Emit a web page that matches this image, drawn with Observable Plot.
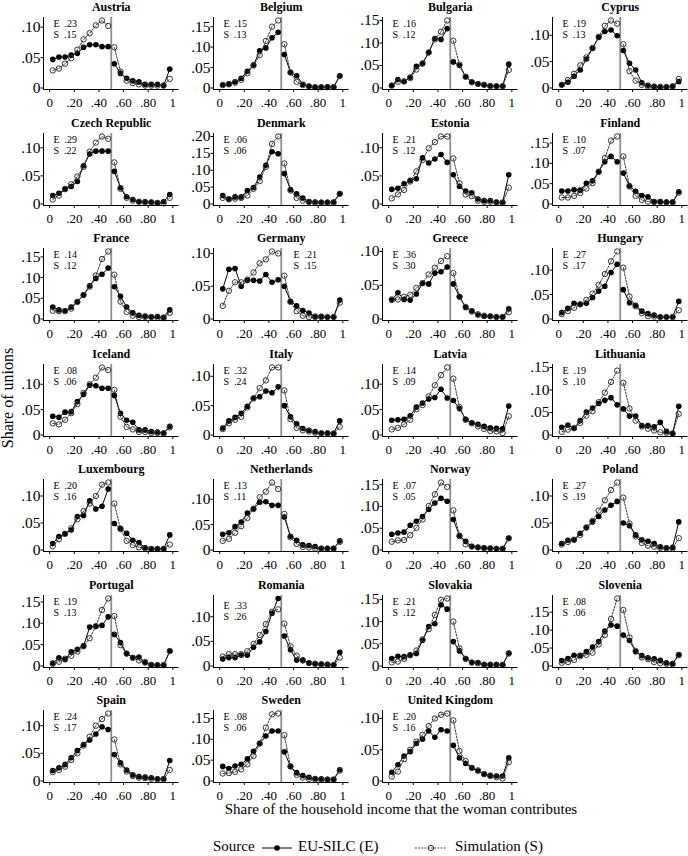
<!DOCTYPE html>
<html><head><meta charset="utf-8">
<script src="https://cdn.jsdelivr.net/npm/d3@7"></script>
<script src="https://cdn.jsdelivr.net/npm/@observablehq/plot@0.6"></script>
<style>
body{margin:0;background:#fff;}
#wrap{position:relative;width:688px;height:856px;font-family:"Liberation Serif","Times New Roman",serif;overflow:hidden;}
#wrap svg.panel{position:absolute;}
</style>
</head><body><div id="wrap"></div>
<script>
const countries = ["Austria","Belgium","Bulgaria","Cyprus","Czech Republic","Denmark","Estonia","Finland","France","Germany","Greece","Hungary","Iceland","Italy","Latvia","Lithuania","Luxembourg","Netherlands","Norway","Poland","Portugal","Romania","Slovakia","Slovenia","Spain","Sweden","United Kingdom"];
const bins = [0.025,0.075,0.125,0.175,0.225,0.275,0.325,0.375,0.425,0.475,0.525,0.575,0.625,0.675,0.725,0.775,0.825,0.875,0.925,0.975];
const segment = ["L","L","L","L","L","L","L","L","L","L","R","R","R","R","R","R","R","R","R","R"];
const xTicks = [0, 0.2, 0.4, 0.6, 0.8, 1];
const yTickMax = [0.10,0.15,0.15,0.10,0.10,0.20,0.10,0.15,0.15,0.10,0.10,0.10,0.10,0.10,0.10,0.15,0.10,0.10,0.15,0.10,0.15,0.10,0.15,0.15,0.10,0.15,0.10];
const indexE = [".23",".15",".16",".19",".29",".06",".21",".10",".14",".21",".36",".27",".08",".32",".14",".19",".20",".13",".07",".27",".19",".33",".21",".08",".24",".08",".20"];
const indexS = [".15",".13",".12",".13",".22",".06",".12",".07",".12",".15",".30",".17",".06",".24",".09",".10",".16",".11",".05",".19",".13",".26",".12",".06",".17",".06",".16"];
// EU-SILC (E)
const silcE = [
 [.047,.051,.051,.054,.057,.067,.071,.071,.068,.068,.040,.024,.016,.012,.010,.006,.006,.006,.004,.031],
 [.008,.010,.015,.024,.041,.056,.091,.098,.123,.136,.082,.038,.030,.009,.004,.002,.002,.003,.002,.030],
 [.006,.019,.014,.024,.048,.054,.079,.110,.108,.132,.058,.050,.025,.013,.009,.007,.005,.004,.004,.053],
 [.006,.011,.022,.034,.055,.075,.096,.107,.110,.099,.071,.047,.034,.010,.005,.003,.002,.002,.003,.012],
 [.015,.019,.026,.031,.040,.068,.089,.094,.094,.094,.058,.029,.013,.008,.004,.004,.003,.002,.004,.017],
 [.025,.015,.021,.021,.040,.049,.080,.115,.155,.149,.090,.043,.030,.018,.007,.006,.005,.005,.006,.031],
 [.026,.028,.036,.042,.045,.082,.073,.080,.088,.074,.052,.031,.023,.020,.009,.006,.006,.003,.003,.052],
 [.032,.032,.035,.034,.051,.057,.080,.104,.117,.104,.076,.045,.031,.021,.018,.006,.006,.005,.005,.030],
 [.029,.022,.020,.029,.042,.058,.080,.098,.108,.123,.078,.055,.029,.015,.009,.007,.005,.006,.004,.022],
 [.046,.076,.077,.050,.059,.059,.058,.068,.056,.060,.050,.027,.020,.013,.009,.004,.004,.003,.003,.029],
 [.028,.039,.029,.028,.037,.053,.052,.068,.070,.077,.052,.033,.017,.012,.006,.004,.004,.003,.003,.015],
 [.013,.022,.032,.030,.032,.044,.057,.067,.095,.112,.060,.033,.028,.016,.011,.008,.004,.004,.004,.036],
 [.037,.035,.045,.046,.066,.080,.098,.097,.092,.092,.078,.043,.029,.025,.010,.010,.007,.006,.004,.017],
 [.012,.024,.030,.037,.049,.063,.065,.075,.072,.082,.050,.031,.019,.011,.008,.006,.003,.003,.003,.024],
 [.029,.030,.031,.038,.055,.063,.071,.074,.090,.073,.068,.052,.031,.024,.021,.017,.014,.013,.012,.057],
 [.017,.022,.015,.032,.051,.060,.070,.077,.083,.067,.058,.042,.042,.021,.021,.018,.028,.008,.004,.064],
 [.012,.025,.030,.037,.062,.064,.091,.076,.081,.113,.049,.040,.031,.018,.014,.004,.002,.002,.002,.028],
 [.031,.034,.046,.055,.073,.081,.094,.095,.088,.088,.065,.027,.019,.010,.009,.007,.003,.003,.003,.018],
 [.036,.039,.041,.057,.066,.077,.093,.108,.119,.112,.070,.033,.020,.008,.006,.005,.004,.003,.003,.027],
 [.012,.018,.019,.031,.041,.052,.062,.074,.083,.090,.050,.045,.028,.019,.016,.012,.006,.004,.005,.052],
 [.007,.019,.015,.033,.039,.047,.091,.093,.095,.115,.074,.055,.029,.020,.021,.009,.002,.002,.002,.035],
 [.014,.017,.017,.022,.022,.038,.049,.070,.107,.137,.061,.033,.012,.011,.006,.004,.004,.003,.002,.028],
 [.017,.022,.021,.025,.028,.058,.089,.095,.138,.128,.055,.034,.017,.008,.008,.003,.003,.003,.003,.029],
 [.015,.021,.030,.030,.040,.053,.068,.097,.114,.111,.086,.071,.040,.029,.023,.020,.016,.009,.007,.032],
 [.019,.024,.030,.042,.055,.066,.074,.085,.098,.093,.048,.033,.020,.011,.008,.007,.006,.004,.004,.037],
 [.035,.030,.036,.040,.053,.071,.090,.108,.120,.120,.070,.035,.020,.013,.009,.006,.005,.004,.004,.027],
 [.014,.026,.040,.047,.060,.067,.080,.070,.082,.080,.057,.037,.028,.021,.016,.011,.009,.008,.008,.037]
];
// Simulation (S)
const simS = [
 [.029,.032,.040,.049,.063,.080,.090,.103,.111,.102,.067,.027,.012,.008,.006,.004,.004,.004,.004,.015],
 [.007,.009,.013,.020,.036,.055,.080,.115,.150,.165,.107,.038,.015,.007,.004,.002,.002,.002,.002,.029],
 [.005,.014,.015,.022,.041,.055,.079,.108,.125,.150,.105,.052,.025,.013,.009,.007,.004,.004,.004,.040],
 [.006,.015,.027,.043,.058,.076,.097,.118,.128,.122,.083,.032,.014,.006,.003,.002,.002,.002,.003,.017],
 [.008,.015,.027,.035,.049,.066,.093,.109,.120,.116,.074,.027,.011,.006,.004,.003,.003,.002,.001,.011],
 [.018,.014,.016,.018,.025,.045,.068,.110,.178,.200,.120,.040,.018,.010,.006,.004,.004,.004,.004,.030],
 [.010,.017,.025,.040,.058,.078,.099,.110,.120,.120,.081,.037,.017,.014,.006,.004,.004,.003,.002,.029],
 [.016,.016,.020,.027,.038,.051,.079,.113,.156,.166,.117,.043,.020,.010,.006,.005,.005,.004,.004,.028],
 [.020,.019,.019,.025,.041,.058,.078,.105,.145,.163,.107,.042,.017,.008,.005,.005,.005,.003,.002,.015],
 [.020,.043,.056,.056,.060,.071,.085,.091,.103,.100,.066,.026,.012,.005,.003,.003,.003,.003,.003,.025],
 [.029,.029,.033,.036,.046,.053,.066,.076,.086,.093,.068,.033,.018,.011,.007,.005,.004,.003,.003,.010],
 [.010,.016,.023,.030,.039,.052,.070,.092,.118,.138,.105,.046,.026,.012,.006,.005,.004,.004,.004,.018],
 [.023,.021,.030,.043,.061,.083,.100,.113,.133,.128,.089,.036,.016,.011,.006,.006,.004,.004,.003,.015],
 [.010,.020,.026,.031,.047,.062,.080,.093,.115,.115,.076,.027,.012,.008,.006,.004,.003,.003,.002,.014],
 [.011,.014,.021,.030,.051,.059,.076,.098,.118,.133,.111,.055,.030,.023,.017,.012,.008,.007,.004,.037],
 [.007,.012,.015,.027,.043,.053,.073,.094,.118,.143,.116,.059,.032,.019,.014,.010,.006,.005,.003,.047],
 [.007,.020,.030,.040,.057,.072,.086,.100,.121,.125,.086,.039,.017,.009,.005,.003,.002,.002,.002,.010],
 [.018,.022,.034,.047,.063,.081,.104,.115,.133,.120,.071,.025,.012,.006,.005,.003,.003,.003,.003,.016],
 [.019,.022,.023,.034,.051,.070,.101,.128,.155,.145,.091,.032,.013,.008,.006,.004,.004,.003,.003,.027],
 [.010,.015,.019,.028,.042,.054,.073,.092,.111,.125,.097,.049,.025,.013,.008,.006,.004,.003,.003,.022],
 [.005,.010,.017,.024,.034,.046,.065,.093,.131,.158,.117,.049,.029,.019,.013,.008,.003,.002,.002,.035],
 [.019,.024,.024,.024,.030,.045,.063,.085,.110,.115,.086,.040,.021,.012,.006,.005,.003,.003,.002,.017],
 [.008,.010,.016,.024,.035,.060,.083,.115,.149,.152,.100,.040,.016,.008,.006,.003,.003,.003,.002,.028],
 [.009,.011,.017,.027,.031,.037,.060,.086,.131,.188,.156,.080,.042,.024,.019,.011,.008,.006,.005,.030],
 [.016,.020,.026,.038,.050,.064,.080,.100,.112,.122,.075,.030,.017,.009,.006,.005,.004,.003,.003,.020],
 [.018,.019,.022,.028,.040,.060,.090,.128,.160,.162,.110,.035,.015,.008,.005,.004,.003,.003,.003,.025],
 [.007,.015,.035,.050,.063,.074,.088,.100,.106,.108,.097,.048,.032,.021,.017,.011,.008,.006,.004,.030]
];

const fmt = d => d === 0 ? "0" : d === 1 ? "1" : d3.format(".2f")(d).replace(/^0/, "");
const wrap = document.getElementById("wrap");
const COLW = 169.6, ROWH = 115.5;
const FONT = "'Liberation Serif','Times New Roman',serif";

countries.forEach((name, i) => {
  const r = Math.floor(i / 4), c = i % 4;
  const rows = bins.map((b, j) => ({x: b, seg: segment[j], e: silcE[i][j], s: simS[i][j]}));
  const top = Math.max(d3.max(silcE[i]), d3.max(simS[i]), yTickMax[i]);
  const u = top / 67.5;
  const yTicks = d3.range(0, yTickMax[i] + 0.001, 0.05);
  const isGermany = name === "Germany";
  const isRomania = name === "Romania";
  const chart = Plot.plot({
    width: 181, height: 110,
    marginLeft: 43, marginRight: 2.5, marginTop: 17, marginBottom: 21,
    style: {fontFamily: FONT, fontSize: "13px", background: "transparent", overflow: "visible", color: "#000"},
    x: {domain: [-0.05, 1.05], ticks: xTicks, tickFormat: fmt, tickSize: 3, tickPadding: 5, label: null},
    y: {domain: [-1.5 * u, top + 3 * u], label: null, axis: null},
    marks: [
      Plot.axisY({ticks: yTicks, tickFormat: fmt, tickSize: 2.5, tickPadding: 0.5, fontSize: 15.5, label: null}),
      Plot.ruleX([0.5], {stroke: "#8e8e8e", strokeWidth: 1.8}),
      Plot.line(rows, {x: "x", y: "e", z: "seg", stroke: "#000", strokeWidth: 1}),
      Plot.dot(rows, {x: "x", y: "e", r: 2.8, fill: "#000", stroke: "none"}),
      Plot.line(rows, {x: "x", y: "s", z: "seg", stroke: "#222", strokeWidth: 0.9, strokeDasharray: "1.8,1.4"}),
      Plot.dot(rows, {x: "x", y: "s", r: 2.7, fill: "none", stroke: "#333", strokeWidth: 1}),
      Plot.ruleX([-0.05], {stroke: "#000", strokeWidth: 1}),
      Plot.ruleY([-1.5 * u], {stroke: "#000", strokeWidth: 1}),
      Plot.text([name], {text: d => d, frameAnchor: "top", dy: -10, lineAnchor: "middle", fontWeight: "bold", fontSize: 12}),
      Plot.text([`E\u2002${indexE[i]}\nS\u2002${indexS[i]}`], {
        text: d => d, frameAnchor: "top-left", textAnchor: "start", lineAnchor: "top",
        dx: isGermany ? 80 : 10, dy: isRomania ? 6 : 2, fontSize: 10, lineHeight: 1.1
      })
    ]
  });
  chart.classList.add("panel");
  chart.style.left = (c * COLW) + "px";
  chart.style.top = (r * ROWH) + "px";
  wrap.appendChild(chart);
});

// axis titles and legend
const ns = "http://www.w3.org/2000/svg";
const over = document.createElementNS(ns, "svg");
over.setAttribute("width", 688); over.setAttribute("height", 856);
over.style.position = "absolute"; over.style.left = "0"; over.style.top = "0";
over.style.fontFamily = FONT;
over.innerHTML = `
 <text x="9" y="398" transform="rotate(-90 9 398)" text-anchor="middle" dominant-baseline="middle" font-size="16">Share of unions</text>
 <text x="401" y="811" text-anchor="middle" dominant-baseline="middle" font-size="15">Share of the household income that the woman contributes</text>
 <text x="213" y="848" dominant-baseline="middle" font-size="15">Source</text>
 <line x1="262" x2="292" y1="848" y2="848" stroke="#000" stroke-width="1"/>
 <circle cx="277" cy="848" r="2.8" fill="#000"/>
 <text x="298" y="848" dominant-baseline="middle" font-size="15">EU-SILC (E)</text>
 <line x1="415" x2="447" y1="848" y2="848" stroke="#222" stroke-width="0.9" stroke-dasharray="1.8,1.4"/>
 <circle cx="431" cy="848" r="2.7" fill="none" stroke="#333" stroke-width="1"/>
 <text x="455" y="848" dominant-baseline="middle" font-size="15">Simulation (S)</text>`;
wrap.appendChild(over);
</script>
</body></html>
